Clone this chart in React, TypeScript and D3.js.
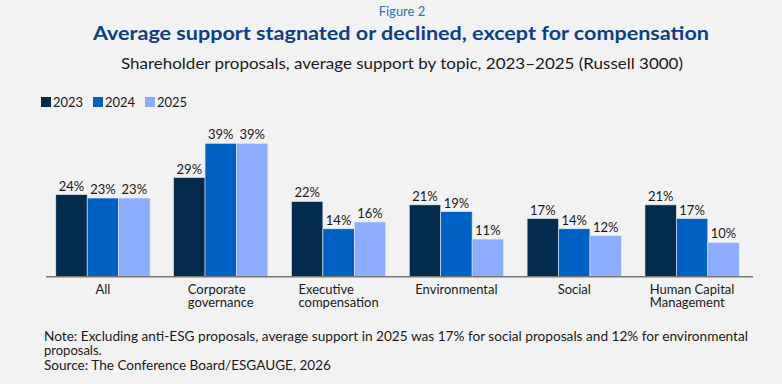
import React, { useEffect, useRef } from "react";
import * as d3 from "d3";

const categories = [
  ["All"],
  ["Corporate", "governance"],
  ["Executive", "compensation"],
  ["Environmental"],
  ["Social"],
  ["Human Capital", "Management"],
];
const years = ["2023", "2024", "2025"];
const values2023 = [24, 29, 22, 21, 17, 21];
const values2024 = [23, 39, 14, 19, 14, 17];
const values2025 = [23, 39, 16, 11, 12, 10];
const colors = ["#032c4c", "#0061c4", "#8cadff"];

const W = 782;
const H = 384;
const FONT = "Lato, 'Open Sans', sans-serif";

export default function App() {
  const svgRef = useRef<SVGSVGElement>(null);

  useEffect(() => {
    document.body.style.margin = "0";
    document.body.style.background = "#f2f2f2";
    const svg = d3.select(svgRef.current);
    svg.selectAll("*").remove();

    svg.append("rect").attr("width", W).attr("height", H).attr("fill", "#f2f2f2");

    // header
    svg.append("text").attr("x", 402).attr("y", 16).attr("text-anchor", "middle")
      .attr("font-family", FONT).attr("font-size", 13).attr("fill", "#3a6fb3")
      .text("Figure 2");
    svg.append("text").attr("x", 401).attr("y", 40).attr("text-anchor", "middle")
      .attr("font-family", FONT).attr("font-size", 19).attr("font-weight", 700)
      .attr("fill", "#0d3f88").attr("textLength", 616).attr("lengthAdjust", "spacingAndGlyphs")
      .text("Average support stagnated or declined, except for compensation");
    svg.append("text").attr("x", 402).attr("y", 69).attr("text-anchor", "middle")
      .attr("font-family", FONT).attr("font-size", 16).attr("fill", "#1a1a1a")
      .attr("textLength", 562).attr("lengthAdjust", "spacingAndGlyphs")
      .text("Shareholder proposals, average support by topic, 2023\u20132025 (Russell 3000)");

    // legend
    const legend = svg.append("g").attr("transform", "translate(41,97)");
    years.forEach((y, i) => {
      const g = legend.append("g").attr("transform", `translate(${i * 52},0)`);
      g.append("rect").attr("width", 10).attr("height", 10).attr("fill", colors[i]);
      g.append("text").attr("x", 12).attr("y", 10).attr("font-family", FONT)
        .attr("font-size", 13).attr("fill", "#1a1a1a").text(y);
    });

    // chart
    const baseline = 276.7;
    const x0 = d3.scaleBand<number>().domain(d3.range(categories.length)).range([44, 751]).paddingInner(0.2).paddingOuter(0.1);
    const x1 = d3.scaleBand<number>().domain(d3.range(years.length)).range([0, x0.bandwidth()]);
    const y = d3.scaleLinear().domain([0, 39]).range([baseline, 143.3]);
    const series = [values2023, values2024, values2025];

    const groups = svg.append("g").selectAll("g").data(categories).join("g")
      .attr("transform", (_, i) => `translate(${x0(i)},0)`);

    groups.each(function (_, ci) {
      const g = d3.select(this);
      series.forEach((vals, si) => {
        g.append("rect")
          .attr("x", x1(si)!)
          .attr("y", y(vals[ci]))
          .attr("width", x1.bandwidth())
          .attr("height", baseline - y(vals[ci]))
          .attr("fill", colors[si])
          .attr("stroke", "#e6e9f0").attr("stroke-width", 0.6);
        g.append("text")
          .attr("x", x1(si)! + x1.bandwidth() / 2)
          .attr("y", y(vals[ci]) - 4)
          .attr("text-anchor", "middle")
          .attr("font-family", FONT).attr("font-size", 13).attr("fill", "#1a1a1a")
          .text(`${vals[ci]}%`);
      });
    });

    svg.append("line").attr("x1", 46).attr("x2", 753).attr("y1", baseline).attr("y2", baseline)
      .attr("stroke", "#777").attr("stroke-width", 1.5);

    // category labels, lines left aligned, block centered
    categories.forEach((lines, i) => {
      const cx = x0(i)! + x0.bandwidth() / 2;
      const t = svg.append("text").attr("font-family", FONT).attr("font-size", 13).attr("fill", "#1a1a1a");
      const spans = lines.map((l, li) =>
        t.append("tspan").attr("y", 294 + li * 12.5).text(l)
      );
      const widths = spans.map((s) => (s.node() as SVGTSPanElement).getComputedTextLength());
      const left = cx - d3.max(widths)! / 2;
      spans.forEach((s) => s.attr("x", left));
    });

    // notes
    const note = svg.append("g").attr("font-family", FONT).attr("font-size", 13).attr("fill", "#1a1a1a");
    note.append("text").attr("x", 44).attr("y", 341).attr("textLength", 704).attr("lengthAdjust", "spacingAndGlyphs")
      .text("Note: Excluding anti-ESG proposals, average support in 2025 was 17% for social proposals and 12% for environmental");
    note.append("text").attr("x", 44).attr("y", 355).text("proposals.");
    note.append("text").attr("x", 44).attr("y", 370).attr("textLength", 287).attr("lengthAdjust", "spacingAndGlyphs")
      .text("Source: The Conference Board/ESGAUGE, 2026");
  }, []);

  return <svg ref={svgRef} width={W} height={H} style={{ display: "block" }} />;
}
